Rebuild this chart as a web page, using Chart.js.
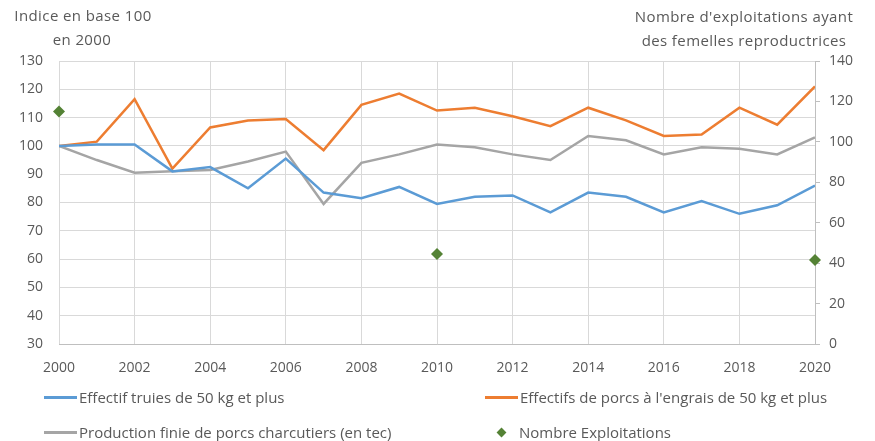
<!DOCTYPE html>
<html>
<head>
<meta charset="utf-8">
<script src="https://cdn.jsdelivr.net/npm/chart.js@4"></script>
<style>
  html, body { margin: 0; padding: 0; background: #fff; }
  body { width: 875px; height: 441px; position: relative; overflow: hidden; font-family: "Open Sans", sans-serif; color: #595959; }
  canvas { position: absolute; left: 0; top: 0; }
  .ttl { position: absolute; font-size: 15px; line-height: 24px; text-align: center; white-space: nowrap; letter-spacing: 0.4px; }
  .legend { position: absolute; font-size: 15px; line-height: 20px; display: flex; align-items: center; white-space: nowrap; }
  .legend .ln { width: 33px; height: 3px; margin-right: 2px; }
  .legend .dm { width: 7px; height: 7px; background: #548235; transform: rotate(45deg); margin: 0 14px 0 13px; }
</style>
</head>
<body>
<canvas id="chart" width="875" height="441"></canvas>
<div class="ttl" style="left:3px; top:3px; width:160px;">Indice en base 100<br><span style="position:relative; left:-1px">en 2000</span></div>
<div class="ttl" style="left:620px; top:4px; width:248px;">Nombre d'exploitations ayant<br>des femelles reproductrices</div>
<div class="legend" style="left:44px; top:387px;"><span class="ln" style="background:#5B9BD5"></span>Effectif truies de 50 kg et plus</div>
<div class="legend" style="left:485px; top:387px;"><span class="ln" style="background:#ED7D31"></span>Effectifs de porcs à l'engrais de 50 kg et plus</div>
<div class="legend" style="left:44px; top:422px;"><span class="ln" style="background:#A5A5A5"></span>Production finie de porcs charcutiers (en tec)</div>
<div class="legend" style="left:485px; top:422px;"><span class="dm"></span>Nombre Exploitations</div>
<script>
const years = [2000, 2001, 2002, 2003, 2004, 2005, 2006, 2007, 2008, 2009, 2010,
               2011, 2012, 2013, 2014, 2015, 2016, 2017, 2018, 2019, 2020];
const truies = [100, 100.5, 100.5, 91, 92.5, 85, 95.5, 83.5, 81.5, 85.5, 79.5,
                82, 82.5, 76.5, 83.5, 82, 76.5, 80.5, 76, 79, 86];
const engrais = [100, 101.5, 116.5, 92, 106.5, 109, 109.5, 98.5, 114.5, 118.5, 112.5,
                 113.5, 110.5, 107, 113.5, 109, 103.5, 104, 113.5, 107.5, 121];
const production = [100, 95, 90.5, 91, 91.5, 94.5, 98, 79.5, 94, 97, 100.5,
                    99.5, 97, 95, 103.5, 102, 97, 99.5, 99, 97, 103];
const exploitYears = [2000, 2010, 2020];
const exploitations = [115, 44.5, 41.5];

const pts = (xs, ys) => xs.map((x, i) => ({ x, y: ys[i] }));
const txt = '#595959';
const grid = '#d9d9d9';
const font = { family: 'Open Sans', size: 14 };

const lineDs = (label, data, color) => ({
  label, data: pts(years, data), borderColor: color, backgroundColor: color,
  borderWidth: 2.5, pointRadius: 0, tension: 0, yAxisID: 'y'
});

new Chart(document.getElementById('chart'), {
  type: 'line',
  data: {
    datasets: [
      lineDs('Effectif truies de 50 kg et plus', truies, '#5B9BD5'),
      lineDs("Effectifs de porcs à l'engrais de 50 kg et plus", engrais, '#ED7D31'),
      lineDs('Production finie de porcs charcutiers (en tec)', production, '#A5A5A5'),
      {
        label: 'Nombre Exploitations', data: pts(exploitYears, exploitations),
        showLine: false, pointStyle: 'rectRot', pointRadius: 6, pointHoverRadius: 6,
        backgroundColor: '#548235', borderColor: '#548235', borderWidth: 0,
        yAxisID: 'y2', clip: false
      }
    ]
  },
  options: {
    responsive: false,
    animation: false,
    layout: { padding: { top: 61, left: 0, right: 0, bottom: 0 } },
    plugins: { legend: { display: false }, tooltip: { enabled: false } },
    scales: {
      x: {
        type: 'linear', min: 2000, max: 2020,
        ticks: { stepSize: 2, color: txt, font, padding: 16, callback: v => String(v) },
        grid: { color: grid, drawTicks: false, lineWidth: 1 },
        border: { display: true, color: '#bfbfbf' },
        afterFit: s => { s.height = 97; }
      },
      y: {
        position: 'left', min: 30, max: 130,
        ticks: { stepSize: 10, color: txt, font, padding: 16 },
        grid: { color: grid, drawTicks: false },
        border: { display: false },
        afterFit: s => { s.width = 59; }
      },
      y2: {
        position: 'right', min: 0, max: 140,
        ticks: { stepSize: 20, color: txt, font, padding: 9 },
        grid: { drawOnChartArea: false, drawTicks: true, tickLength: 5, color: '#bfbfbf' },
        border: { display: true, color: '#bfbfbf' },
        afterFit: s => { s.width = 60; }
      }
    }
  }
});
</script>
</body>
</html>
